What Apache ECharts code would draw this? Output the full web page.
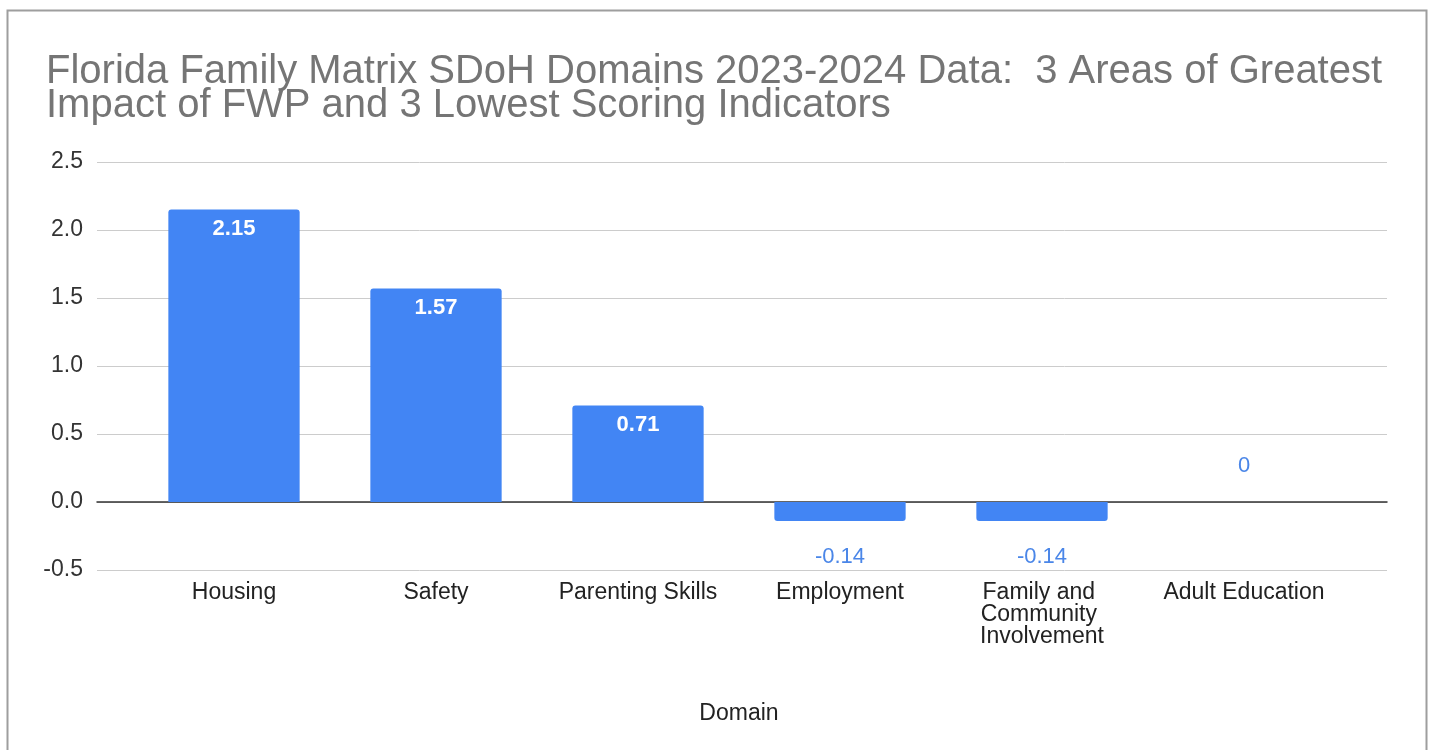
<!DOCTYPE html>
<html>
<head>
<meta charset="utf-8">
<script src="https://cdn.jsdelivr.net/npm/echarts@6/dist/echarts.min.js"></script>
<style>
html,body{margin:0;padding:0;background:#fff;}
#chart{width:1431px;height:750px;}
</style>
</head>
<body>
<div id="chart"></div>
<script>
const titleText = 'Florida Family Matrix SDoH Domains 2023-2024 Data:  3 Areas of Greatest\nImpact of FWP and 3 Lowest Scoring Indicators';
const categories = ['Housing', 'Safety', 'Parenting Skills', 'Employment', 'Family and Community Involvement', 'Adult Education'];
const values = [2.15, 1.57, 0.71, -0.14, -0.14, 0];
const yMin = -0.5, yMax = 2.5, yInterval = 0.5;
const xAxisName = 'Domain';

const FONT = '"Liberation Sans", Arial, sans-serif';
const BLUE = '#4285f4';

const seriesData = values.map(v => {
  let label;
  if (v > 0) {
    label = { position: 'insideTop', distance: 8, color: '#ffffff', fontWeight: 'bold' };
  } else if (v < 0) {
    label = { position: 'bottom', distance: 25, color: '#4a86e8' };
  } else {
    label = { position: 'top', distance: 25, color: '#4a86e8' };
  }
  return {
    value: v,
    label: label,
    itemStyle: { borderRadius: v >= 0 ? [3, 3, 0, 0] : [0, 0, 3, 3] }
  };
});

const chart = echarts.init(document.getElementById('chart'), null, { renderer: 'canvas' });
chart.setOption({
  animation: false,
  backgroundColor: '#ffffff',
  graphic: [{
    type: 'rect', left: 5, top: 8, z: 100, silent: true,
    shape: { width: 1419, height: 800 },
    style: { fill: 'none', stroke: '#9e9e9e', lineWidth: 2 }
  }],
  title: {
    text: titleText,
    left: 41, top: 50,
    textStyle: { fontFamily: FONT, fontSize: 40, fontWeight: 'normal', color: '#757575', lineHeight: 34 }
  },
  grid: [
    { left: 97, right: 44, top: 162, bottom: 180 },
    { left: 133, right: 86, top: 162, bottom: 180 }
  ],
  xAxis: [
    {
      gridIndex: 0, type: 'value', min: 0, max: 1,
      axisLine: { show: true, onZero: true, lineStyle: { color: '#333333', width: 1.5 } },
      axisTick: { show: false }, axisLabel: { show: false }, splitLine: { show: false }
    },
    {
      gridIndex: 1, type: 'category', data: categories,
      axisLine: { show: false }, axisTick: { show: false },
      axisLabel: {
        margin: 12, fontFamily: FONT, fontSize: 23, color: '#222222', lineHeight: 22,
        width: 185, overflow: 'break', interval: 0
      },
      name: xAxisName, nameLocation: 'middle', nameGap: 132,
      nameTextStyle: { fontFamily: FONT, fontSize: 23, color: '#222222' }
    }
  ],
  yAxis: [
    {
      gridIndex: 0, type: 'value', min: yMin, max: yMax, interval: yInterval,
      axisLine: { show: false }, axisTick: { show: false },
      axisLabel: {
        margin: 14, fontFamily: FONT, fontSize: 23, color: '#333333',
        formatter: v => v.toFixed(1)
      },
      splitLine: { show: true, lineStyle: { color: '#cccccc', width: 1 } }
    },
    {
      gridIndex: 1, type: 'value', min: yMin, max: yMax, interval: yInterval,
      show: false, splitLine: { show: false }
    }
  ],
  series: [{
    type: 'bar',
    xAxisIndex: 1, yAxisIndex: 1,
    barWidth: '65%',
    data: seriesData,
    itemStyle: { color: BLUE },
    label: {
      show: true, fontFamily: FONT, fontSize: 22,
      formatter: p => String(p.value)
    }
  }]
});
</script>
</body>
</html>
